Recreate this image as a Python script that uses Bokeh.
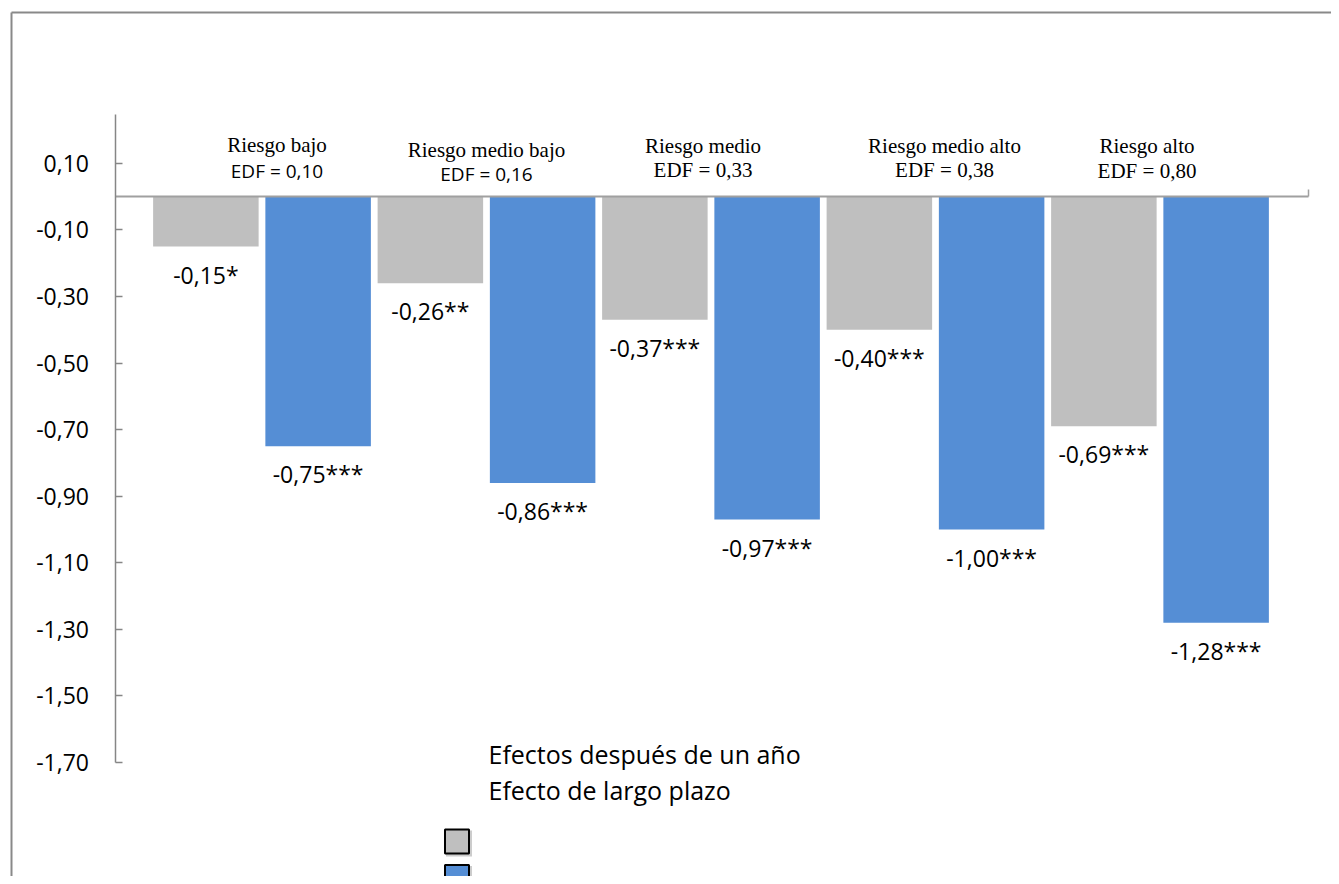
from bokeh.plotting import figure
from bokeh.models import Range1d, LinearAxis, FixedTicker, CustomJSTickFormatter, ColumnDataSource
from bokeh.core.properties import value
from bokeh.embed import file_html
from bokeh.resources import INLINE

# ---------------- data ----------------
categories = ["Riesgo bajo", "Riesgo medio bajo", "Riesgo medio", "Riesgo medio alto", "Riesgo alto"]
edf_labels = ["EDF = 0,10", "EDF = 0,16", "EDF = 0,33", "EDF = 0,38", "EDF = 0,80"]
efecto_un_ano = [-0.15, -0.26, -0.37, -0.40, -0.69]
efecto_largo_plazo = [-0.75, -0.86, -0.97, -1.00, -1.28]
sig_un_ano = ["*", "**", "***", "***", "***"]
sig_largo_plazo = ["***", "***", "***", "***", "***"]
y_ticks = [0.10, -0.10, -0.30, -0.50, -0.70, -0.90, -1.10, -1.30, -1.50, -1.70]
series_names = ["Efectos después de un año", "Efecto de largo plazo"]

# ---------------- layout (pixels) ----------------
W, H = 1331, 876
PX_PER_CAT = 224.5
CAT1_PX = 261.5
PX_PER_UNIT = 332.8
ZERO_PX = 196.2
x_start = 1 - CAT1_PX / PX_PER_CAT
x_end = x_start + W / PX_PER_CAT
y_end = ZERO_PX / PX_PER_UNIT
y_start = y_end - H / PX_PER_UNIT


def cx(px):
    return x_start + px / PX_PER_CAT


def cy(py):
    return y_end - py / PX_PER_UNIT


cat_label_dx = [15, 0, -8, 9, -13]
cat_label_dy = [-52, -47, -51, -51, -51]
edf_label_dy = [-26, -23, -27, -27, -26]
GRAY = "#BFBFBF"
BLUE = "#558ED5"
SANS = "Open Sans"
SERIF = "Liberation Serif"

p = figure(width=W, height=H, x_range=Range1d(x_start, x_end), y_range=Range1d(y_start, y_end),
           x_axis_location=None, y_axis_location=None, toolbar_location=None,
           output_backend="svg", min_border=0, outline_line_color=None)
p.grid.visible = False
p.background_fill_color = "white"
p.border_fill_color = "white"

xc = [i + 1 for i in range(len(categories))]
fmt = lambda v: f"{v:.2f}".replace(".", ",")

src1 = ColumnDataSource(dict(x=[v - 0.25 for v in xc], top=[0] * 5, bottom=efecto_un_ano,
                             lab=[fmt(v) + s for v, s in zip(efecto_un_ano, sig_un_ano)]))
src2 = ColumnDataSource(dict(x=[v + 0.25 for v in xc], top=[0] * 5, bottom=efecto_largo_plazo,
                             lab=[fmt(v) + s for v, s in zip(efecto_largo_plazo, sig_largo_plazo)]))

p.vbar(x="x", top="top", bottom="bottom", width=0.47, source=src1, fill_color=GRAY, line_color=None)
p.vbar(x="x", top="top", bottom="bottom", width=0.47, source=src2, fill_color=BLUE, line_color=None)

for s in (src1, src2):
    p.text(x="x", y="bottom", text="lab", source=s, text_align="center", text_baseline="middle",
           y_offset=28, text_font=value(SANS), text_font_size="23px", text_color="black")

# category labels
p.text(x=xc, y=[0] * 5, text=categories, x_offset=cat_label_dx, y_offset=cat_label_dy,
       text_align="center", text_baseline="middle", text_font=value(SERIF),
       text_font_size="21px", text_color="black")
p.text(x=xc[:2], y=[0] * 2, text=edf_labels[:2], x_offset=cat_label_dx[:2], y_offset=edf_label_dy[:2],
       text_align="center", text_baseline="middle", text_font=value(SANS),
       text_font_size="19px", text_color="black")
p.text(x=xc[2:], y=[0] * 3, text=edf_labels[2:], x_offset=cat_label_dx[2:], y_offset=edf_label_dy[2:],
       text_align="center", text_baseline="middle", text_font=value(SERIF),
       text_font_size="21px", text_color="black")

# y axis
yax = LinearAxis(fixed_location=cx(114.5), bounds=(-1.70, cy(114)), ticker=FixedTicker(ticks=y_ticks),
                 formatter=CustomJSTickFormatter(code="return tick.toFixed(2).replace('.', ',');"))
yax.major_tick_in = 7
yax.major_tick_out = 0
yax.minor_tick_line_color = None
yax.axis_line_color = "#868686"
yax.axis_line_width = 1.5
yax.major_tick_line_color = "#868686"
yax.major_tick_line_width = 1.5
yax.major_label_text_font = SANS
yax.major_label_text_font_size = "23px"
yax.major_label_text_color = "black"
yax.major_label_standoff = 26
p.add_layout(yax, "left")

# x (zero) axis
xax = LinearAxis(fixed_location=0, bounds=(cx(114.5), cx(1308)), ticker=FixedTicker(ticks=[cx(1308)]),
                 formatter=CustomJSTickFormatter(code="return '';"))
xax.major_tick_in = 7
xax.major_tick_out = 0
xax.minor_tick_line_color = None
xax.axis_line_color = "#A0A0A0"
xax.axis_line_width = 2
xax.major_tick_line_color = "#A0A0A0"
xax.major_tick_line_width = 1.5
p.add_layout(xax, "below")

# outer frame lines
p.segment(x0=[cx(11), cx(11)], y0=[cy(12), cy(12)], x1=[cx(W), cx(11)], y1=[cy(12), cy(H)],
          line_color="#898989", line_width=2)

# legend (detached text and swatches as in the original)
p.text(x=[cx(488), cx(488)], y=[cy(753), cy(789)], text=series_names, text_align="left",
       text_baseline="middle", text_font=value(SANS), text_font_size="25px", text_color="black")
p.scatter(x=[cx(458.5), cx(458.5)], y=[cy(843), cy(878.5)], marker="square", size=26,
          fill_color="#9A9A9A", line_color=None, alpha=0.5)
p.scatter(x=[cx(456.5), cx(456.5)], y=[cy(841), cy(876.5)], marker="square", size=24,
          fill_color=[GRAY, BLUE], line_color="black", line_width=2)

open("out.html", "w").write(file_html(p, INLINE))
